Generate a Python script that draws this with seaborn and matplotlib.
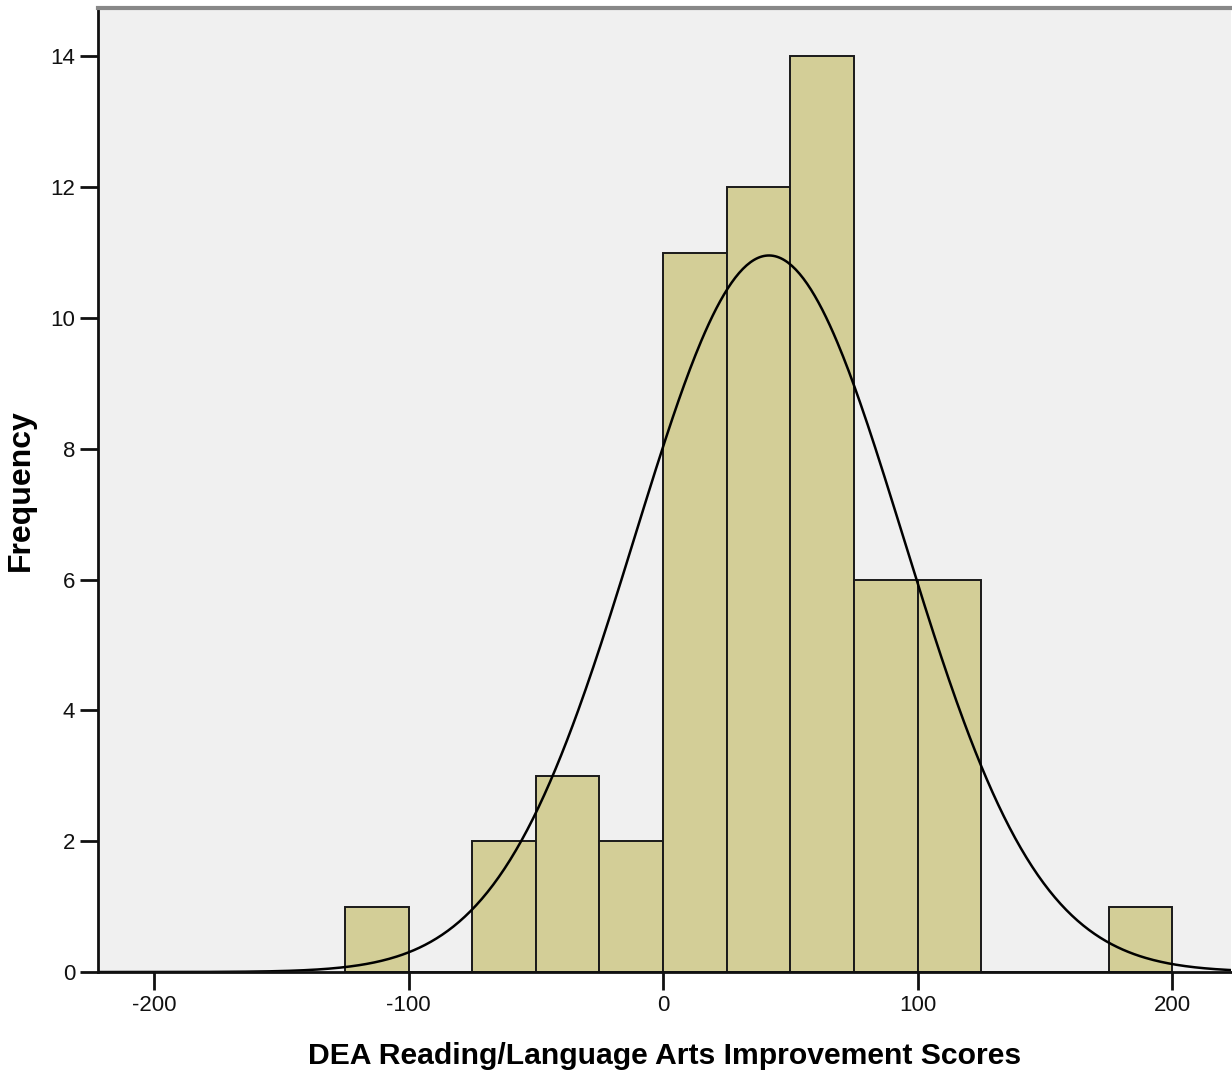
import numpy as np
import matplotlib
matplotlib.use("Agg")
import matplotlib.pyplot as plt
import seaborn as sns

# histogram bins (width 25) and counts
bin_edges = [-125, -100, -75, -50, -25, 0, 25, 50, 75, 100, 125, 150, 175, 200]
counts = [1, 0, 2, 3, 2, 11, 12, 14, 6, 6, 0, 0, 1]

# normal curve parameters (SPSS overlay)
mean_score = 41.6
sd_score = 52.8
n_total = sum(counts)
bin_width = 25

x_ticks = [-200, -100, 0, 100, 200]
y_ticks = [0, 2, 4, 6, 8, 10, 12, 14]

sns.set_style("white")
plt.rcParams['font.family'] = ['Liberation Sans', 'DejaVu Sans']
plt.rcParams['axes.unicode_minus'] = False

fig = plt.figure(figsize=(12.32, 10.78), dpi=100)
ax = fig.add_axes([0.0795, 0.0983, 0.9195, 0.8943])
ax.set_facecolor('#F0F0F0')

centers = [(a + b) / 2 for a, b in zip(bin_edges[:-1], bin_edges[1:])]
sns.histplot(x=centers, weights=counts, bins=bin_edges, ax=ax,
             color='#D3CE97', alpha=1.0, edgecolor='#1a1a1a', linewidth=1.4)

xs = np.linspace(-222, 223, 600)
ys = n_total * bin_width / (sd_score * np.sqrt(2 * np.pi)) * np.exp(-(xs - mean_score) ** 2 / (2 * sd_score ** 2))
ax.plot(xs, ys, color='black', linewidth=1.8)

ax.set_xlim(-222, 223)
ax.set_ylim(0, 14.74)
ax.set_xticks(x_ticks)
ax.set_yticks(y_ticks)
ax.tick_params(axis='both', direction='out', length=13, width=2, color='#111111',
               labelsize=16, labelcolor='#111111', bottom=True, left=True)

for side in ['left', 'bottom']:
    ax.spines[side].set_color('#111111')
    ax.spines[side].set_linewidth(2)
ax.spines['top'].set_color('#888888')
ax.spines['top'].set_linewidth(3)
ax.spines['right'].set_visible(False)

ax.set_xlabel('DEA Reading/Language Arts Improvement Scores', fontsize=21.7,
              fontweight='bold', labelpad=19, color='black')
ax.set_ylabel('Frequency', fontsize=23, fontweight='bold', labelpad=10, color='black')

fig.savefig('out.png', dpi=100)
